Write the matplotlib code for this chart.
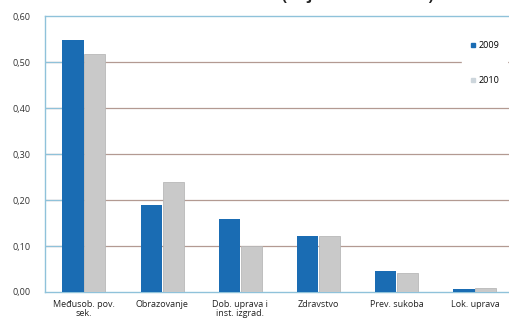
import numpy as np
import matplotlib
matplotlib.use("Agg")
import matplotlib.pyplot as plt
from matplotlib.lines import Line2D

# -----------------------------
# data
# -----------------------------
categories = ["Međusob. pov.\nsek.", "Obrazovanje", "Dob. uprava i\ninst. izgrad.",
              "Zdravstvo", "Prev. sukoba", "Lok. uprava"]
values_2009 = [0.548, 0.189, 0.159, 0.122, 0.046, 0.007]
values_2010 = [0.517, 0.239, 0.100, 0.121, 0.041, 0.009]
series_labels = ["2009", "2010"]
y_ticks = [0.0, 0.1, 0.2, 0.3, 0.4, 0.5, 0.6]
y_ticklabels = ["0,00", "0,10", "0,20", "0,30", "0,40", "0,50", "0,60"]

BLUE = "#1a6cb3"
GRAY = "#c9c9c9"
FRAME = "#8fc2da"
GRID = "#b39a92"

plt.rcParams['font.family'] = ['Open Sans', 'DejaVu Sans']

fig = plt.figure(figsize=(5.1, 3.29), dpi=100)
ax = fig.add_axes([0.088, 0.1125, 0.92, 0.8385])

x = np.arange(len(categories))
w = 0.27
ax.bar(x - 0.14, values_2009, width=w, color=BLUE, zorder=3)
ax.bar(x + 0.14, values_2010, width=w, color=GRAY, edgecolor="#b8b8b8", linewidth=0.6, zorder=3)

ax.set_xlim(-0.5, 5.5)
ax.set_ylim(0, 0.6)
ax.set_yticks(y_ticks)
ax.set_yticklabels(y_ticklabels, fontsize=6.5, color="#333333")
ax.set_xticks(x)
ax.set_xticklabels(categories, fontsize=6.5, color="#222222", linespacing=0.9, va="top")
ax.tick_params(axis="x", length=0, pad=6)
ax.tick_params(axis="y", length=0, pad=10)

for yv in y_ticks[1:-1]:
    ax.axhline(yv, color=GRID, linewidth=0.9, zorder=1)
    ax.plot([-0.5, -0.3], [yv, yv], color=FRAME, linewidth=0.9, zorder=2)

for side in ["left", "bottom", "top", "right"]:
    ax.spines[side].set_color(FRAME)
    ax.spines[side].set_linewidth(1.0)

handles = [Line2D([], [], marker="s", linestyle="none", markersize=3.5, color=BLUE),
           Line2D([], [], marker="s", linestyle="none", markersize=3.5, color="#cdd6dc")]
leg = ax.legend(handles, series_labels, loc="upper right", bbox_to_anchor=(0.995, 0.955),
                frameon=True, fontsize=6.5, handlelength=0.6, handletextpad=0.3,
                labelspacing=2.9, borderpad=0.9, fancybox=False)
leg.get_frame().set_edgecolor("white")
leg.get_frame().set_facecolor("white")
leg.get_frame().set_alpha(1.0)
leg.set_zorder(4)

# title is cut off at the top of the picture, only the descenders show
fig.text(0.62, 1.0, "Učestalost (vrijednost indeksa)", ha="center", va="baseline",
         fontsize=11, fontweight="bold", color="#222222")

fig.savefig("out.png", dpi=100)
